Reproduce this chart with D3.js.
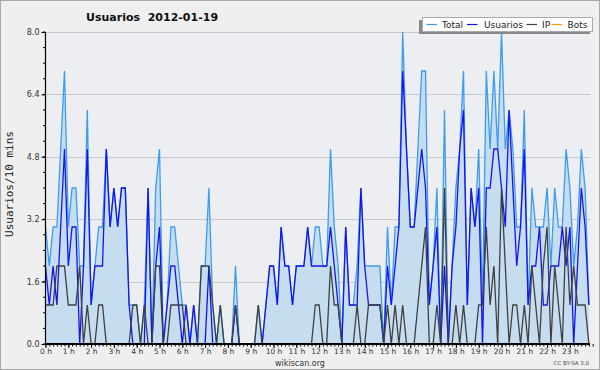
<!DOCTYPE html>
<html><head><meta charset="utf-8">
<script src="https://cdn.jsdelivr.net/npm/d3@7"></script>
<style>html,body{margin:0;padding:0;background:#efefef;}svg{display:block;}</style>
</head><body>
<script>
const hourLabels = ["0 h","1 h","2 h","3 h","4 h","5 h","6 h","7 h","8 h","9 h","10 h","11 h","12 h","13 h","14 h","15 h","16 h","17 h","18 h","19 h","20 h","21 h","22 h","23 h"];
const yTicks = [0, 1.6, 3.2, 4.8, 6.4, 8.0];
const seriesNames = ["Total", "Usuarios", "IP", "Bots"];
const total = [3,2,3,3,5,7,3,4,4,2, 2,6,1,2,3,3,5,3,4,3, 4,4,1,1,1,0,1,4,0,4, 5,0,1,3,3,2,1,1,0,1,
  0,2,2,4,1,0,1,0,0,0, 2,0,0,0,0,0,1,0,1,2, 2,1,3,2,2,1,2,2,2,3, 2,3,3,2,2,5,3,2,0,3,
  1,1,2,4,2,2,2,2,2,0, 3,1,3,3,8,5,3,3,5,7, 7,1,2,4,0,6,0,2,4,5, 7,1,4,3,5,1,7,5,7,5,
  8,5,6,5,3,3,6,1,4,3, 3,3,4,2,4,3,3,5,4,2, 3,5,4,1];
const usuarios = [2,1,2,1,3,5,2,3,3,0, 2,5,1,2,2,2,5,3,4,3, 4,4,1,0,0,0,0,4,0,2, 3,0,1,2,2,1,0,1,0,1,
  0,0,0,2,0,0,0,0,0,0, 1,0,0,0,0,0,0,0,1,2, 2,1,3,2,2,1,2,2,2,3, 2,2,2,2,2,3,2,1,0,3,
  1,1,1,4,2,1,1,1,1,0, 2,1,2,3,7,5,3,3,4,5, 4,1,2,3,0,2,0,2,3,5, 6,1,4,3,4,0,4,4,5,5,
  4,3,6,4,2,3,5,1,2,2, 3,1,1,2,2,2,3,2,3,0, 2,4,3,1];
const ip = [1,1,1,2,2,2,1,1,1,2, 0,1,0,0,1,1,0,0,0,0, 0,0,0,1,1,0,1,0,0,2, 2,0,0,1,1,1,1,0,0,0,
  0,2,2,2,1,0,1,0,0,0, 1,0,0,0,0,0,1,0,0,0, 0,0,0,0,0,0,0,0,0,0, 0,1,1,0,0,2,1,1,0,0,
  0,0,1,0,0,1,1,1,1,0, 1,0,1,0,1,0,0,0,1,2, 3,0,0,1,0,4,0,0,1,0, 1,0,0,0,1,1,3,1,2,0,
  4,2,0,1,1,0,1,0,2,1, 0,2,3,0,2,1,0,3,1,2, 1,1,1,0];
const bots = [0,0,0,0,0,0,0,0,0,0, 0,0,0,0,0,0,0,0,0,0, 0,0,0,0,0,0,0,0,0,0, 0,0,0,0,0,0,0,0,0,0,
  0,0,0,0,0,0,0,0,0,0, 0,0,0,0,0,0,0,0,0,0, 0,0,0,0,0,0,0,0,0,0, 0,0,0,0,0,0,0,0,0,0,
  0,0,0,0,0,0,0,0,0,0, 0,0,0,0,0,0,0,0,0,0, 0,0,0,0,0,0,0,0,0,0, 0,0,0,0,0,0,0,0,0,0,
  0,0,0,0,0,0,0,0,0,0, 0,0,0,0,0,0,0,0,0,0, 0,0,0,0];
const slots = d3.range(total.length); // 10-minute slots

const W = 600, H = 370;
const M = {left: 45.5, right: 590, top: 32, bottom: 344};
const colors = {Total: "#3c9cf0", Usuarios: "#1414f0", IP: "#404040", Bots: "#ff9a00"};
const FONT = "DejaVu Sans, Verdana, sans-serif";

const svg = d3.select("body").append("svg").attr("width", W).attr("height", H);
svg.append("rect").attr("x", 0.5).attr("y", 0.5).attr("width", W - 1).attr("height", H - 1)
  .attr("fill", "#efefef").attr("stroke", "#a8a8a8");

const x = d3.scaleLinear().domain([0, 144]).range([M.left, M.left + 3.8 * 144]);
const y = d3.scaleLinear().domain([0, 8]).range([M.bottom, M.top]);

// plot background
svg.append("rect").attr("x", M.left).attr("y", M.top).attr("width", M.right - M.left)
  .attr("height", M.bottom - M.top).attr("fill", "#eceef1");

// grid
svg.append("g").selectAll("line").data(yTicks.slice(1)).join("line")
  .attr("x1", M.left).attr("x2", M.right)
  .attr("y1", d => Math.round(y(d)) + 0.5).attr("y2", d => Math.round(y(d)) + 0.5)
  .attr("stroke", "#c8c8c8").attr("stroke-width", 1);

const mkLine = arr => d3.line().x(i => x(i)).y(i => y(arr[i]));
const seriesData = {Total: total, Usuarios: usuarios, IP: ip, Bots: bots};
const drawLine = (name, w) => svg.append("path").datum(slots).attr("d", mkLine(seriesData[name]))
    .attr("fill", "none").attr("stroke", colors[name]).attr("stroke-width", w)
    .attr("stroke-linejoin", "miter");

// bots line (all at zero, lies under the axis)
drawLine("Bots", 1);

// area for total
const area = d3.area().x(i => x(i)).y0(y(0)).y1(i => y(total[i]));
svg.append("path").datum(slots).attr("d", area).attr("fill", "#c6ddf0");

["Total", "Usuarios", "IP"].forEach(n => drawLine(n, 1.3));

// axes
const yAxis = d3.axisLeft(y).tickValues(yTicks).tickFormat(d3.format(".1f")).tickSize(4).tickPadding(2);
const gy = svg.append("g").attr("transform", `translate(${M.left},0)`).call(yAxis);
gy.select(".domain").remove();
gy.selectAll("text").attr("font-family", FONT).attr("font-size", 8).attr("fill", "#333");
gy.selectAll(".tick line").attr("stroke", "#000");
// minor y ticks
svg.append("g").selectAll("line").data(d3.range(0, 8.01, 0.4)).join("line")
  .attr("x1", M.left - 2.5).attr("x2", M.left).attr("y1", d => y(d)).attr("y2", d => y(d)).attr("stroke", "#000");
svg.append("line").attr("x1", M.left).attr("x2", M.left).attr("y1", M.top).attr("y2", M.bottom + 0.5)
  .attr("stroke", "#000").attr("stroke-width", 1.2);

const xAxisMinor = d3.axisBottom(x).tickValues(d3.range(0, 145)).tickFormat("").tickSize(2.5);
const gxm = svg.append("g").attr("transform", `translate(0,${M.bottom})`).call(xAxisMinor);
gxm.select(".domain").remove();
gxm.selectAll(".tick line").attr("stroke", "#000");
const xAxis = d3.axisBottom(x).tickValues(d3.range(0, 144, 6)).tickFormat((d, i) => hourLabels[i]).tickSize(4).tickPadding(1);
const gx = svg.append("g").attr("transform", `translate(0,${M.bottom})`).call(xAxis);
gx.select(".domain").remove();
gx.selectAll("text").attr("font-family", FONT).attr("font-size", 7.5).attr("fill", "#333");
gx.selectAll(".tick line").attr("stroke", "#000");
svg.append("line").attr("x1", M.left).attr("x2", M.right).attr("y1", M.bottom).attr("y2", M.bottom)
  .attr("stroke", "#000").attr("stroke-width", 1.8);

// titles
svg.append("text").attr("x", 86).attr("y", 21).attr("font-family", FONT).attr("font-weight", "bold")
  .attr("font-size", 11).attr("fill", "#111").attr("xml:space", "preserve").text("Usuarios  2012-01-19");
svg.append("text").attr("transform", "translate(13,184) rotate(-90)").attr("text-anchor", "middle")
  .attr("font-family", "DejaVu Sans Mono, monospace").attr("font-size", 11).attr("fill", "#222").text("Usuarios/10 mins");
svg.append("text").attr("x", 300).attr("y", 366).attr("text-anchor", "middle").attr("font-family", FONT)
  .attr("font-size", 8).attr("fill", "#333").text("wikiscan.org");
svg.append("text").attr("x", 589).attr("y", 365).attr("text-anchor", "end").attr("font-family", FONT)
  .attr("font-size", 5.5).attr("fill", "#444").text("CC BY-SA 3.0");

// legend
const lg = svg.append("g");
lg.append("rect").attr("x", 419).attr("y", 20).attr("width", 171).attr("height", 14).attr("fill", "#888");
lg.append("rect").attr("x", 422.5).attr("y", 17.5).attr("width", 170).attr("height", 14)
  .attr("fill", "#fff").attr("stroke", "#aaa");
const legendPos = [[426.5, 442], [467, 484], [526.5, 542], [551.5, 567.5]];
seriesNames.forEach((name, k) => {
  lg.append("line").attr("x1", legendPos[k][0]).attr("x2", legendPos[k][0] + 10.5)
    .attr("y1", 24.5).attr("y2", 24.5).attr("stroke", colors[name]).attr("stroke-width", 1.2);
  lg.append("text").attr("x", legendPos[k][1]).attr("y", 28).attr("font-family", FONT)
    .attr("font-size", 9).attr("fill", "#222").text(name);
});
</script>
</body></html>
